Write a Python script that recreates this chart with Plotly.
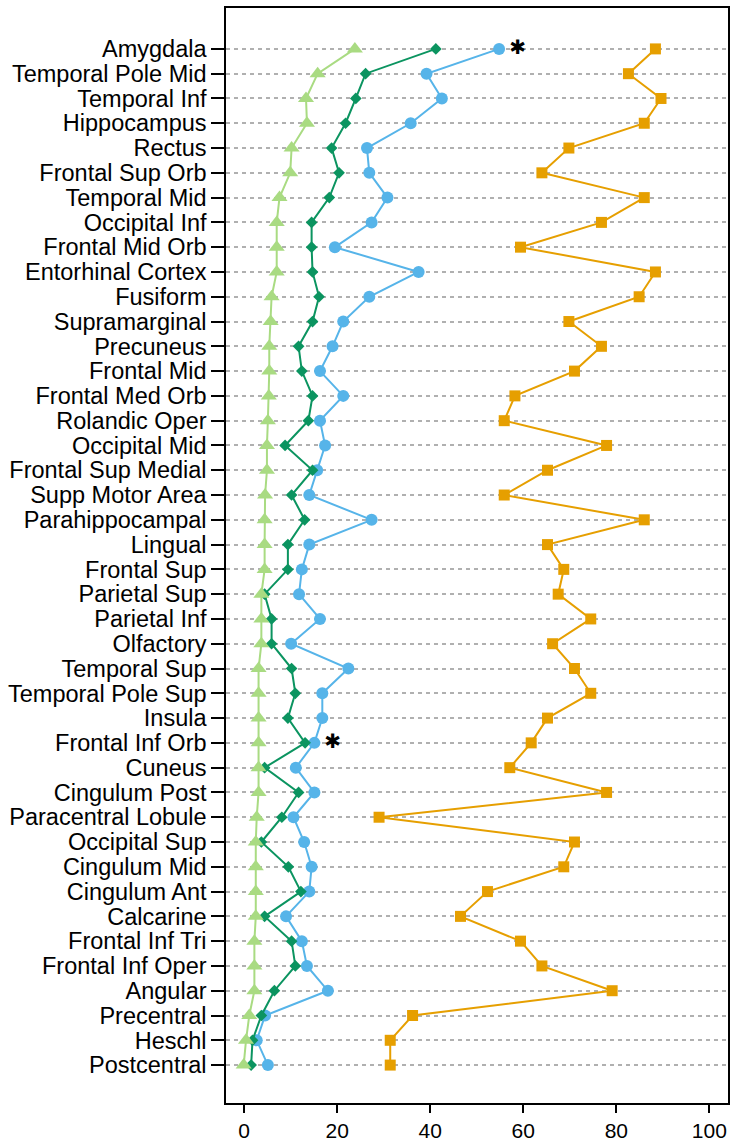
import plotly.graph_objects as go

regions = ["Amygdala", "Temporal Pole Mid", "Temporal Inf", "Hippocampus", "Rectus",
           "Frontal Sup Orb", "Temporal Mid", "Occipital Inf", "Frontal Mid Orb",
           "Entorhinal Cortex", "Fusiform", "Supramarginal", "Precuneus", "Frontal Mid",
           "Frontal Med Orb", "Rolandic Oper", "Occipital Mid", "Frontal Sup Medial",
           "Supp Motor Area", "Parahippocampal", "Lingual", "Frontal Sup", "Parietal Sup",
           "Parietal Inf", "Olfactory", "Temporal Sup", "Temporal Pole Sup", "Insula",
           "Frontal Inf Orb", "Cuneus", "Cingulum Post", "Paracentral Lobule",
           "Occipital Sup", "Cingulum Mid", "Cingulum Ant", "Calcarine", "Frontal Inf Tri",
           "Frontal Inf Oper", "Angular", "Precentral", "Heschl", "Postcentral"]

light_green = [23.8, 15.8, 13.3, 13.5, 10.2, 9.9, 7.6, 7.0, 7.0, 7.0, 5.9, 5.7, 5.4, 5.4,
               5.3, 5.1, 4.9, 4.9, 4.5, 4.4, 4.4, 4.4, 3.7, 3.7, 3.7, 3.1, 3.1, 3.1, 3.1,
               3.1, 3.1, 2.7, 2.5, 2.5, 2.5, 2.5, 2.2, 2.2, 2.2, 1.1, 0.4, -0.1]
dark_green = [41.2, 26.1, 24.0, 21.8, 18.8, 20.4, 18.3, 14.5, 14.5, 14.7, 16.1, 14.7, 11.7,
              12.4, 14.7, 13.8, 8.8, 14.7, 10.2, 13.0, 9.4, 9.4, 4.4, 5.9, 5.9, 10.2, 11.0,
              9.4, 13.1, 4.4, 11.7, 8.1, 3.7, 9.5, 12.2, 4.4, 10.2, 11.0, 6.5, 3.7, 1.8, 1.5]
blue = [54.8, 39.2, 42.5, 35.8, 26.4, 26.9, 30.8, 27.4, 19.5, 37.5, 26.9, 21.3, 19.0, 16.3,
        21.3, 16.3, 17.4, 15.7, 14.0, 27.4, 14.0, 12.4, 11.8, 16.3, 10.1, 22.4, 16.8, 16.8,
        15.1, 11.1, 15.1, 10.6, 12.9, 14.5, 14.0, 9.0, 12.4, 13.5, 18.0, 4.5, 2.7, 5.1]
orange = [88.4, 82.6, 89.6, 86.0, 69.8, 64.0, 86.0, 76.8, 59.4, 88.4, 84.9, 69.8, 76.8,
          71.0, 58.2, 55.9, 77.9, 65.2, 55.9, 86.0, 65.2, 68.7, 67.5, 74.5, 66.3, 71.0,
          74.5, 65.2, 61.7, 57.1, 77.9, 29.0, 71.0, 68.7, 52.3, 46.5, 59.4, 64.0, 79.1,
          36.2, 31.4, 31.4]

star_regions = ["Amygdala", "Frontal Inf Orb"]
star_x = [58.8, 19.0]

x_ticks = [0, 20, 40, 60, 80, 100]

fig = go.Figure()

series = [
    (orange, "#E69F00", "square", 11, 2),
    (blue, "#56B4E9", "circle", 12, 2),
    (dark_green, "#0B9460", "diamond", 9, 2),
    (light_green, "#A9DB82", "triangle-up", 14, 2),
]
for vals, col, sym, sz, lw in series:
    fig.add_trace(go.Scatter(
        x=vals, y=regions, mode="lines+markers",
        line=dict(color=col, width=lw),
        marker=dict(symbol=sym, size=sz, color=col),
        showlegend=False, cliponaxis=False))

fig.add_trace(go.Scatter(
    x=star_x, y=star_regions, mode="text", text=["✱"] * len(star_x),
    textfont=dict(size=20, color="black", family="DejaVu Sans"),
    textposition="middle center", showlegend=False))

n = len(regions)
fig.update_layout(
    width=731, height=1143,
    margin=dict(l=226, r=3, t=8, b=40),
    plot_bgcolor="white", paper_bgcolor="white",
    font=dict(family="Liberation Sans, Arial, sans-serif", color="black"),
)
fig.update_xaxes(
    range=[-3.9, 104.0], tickmode="array", tickvals=x_ticks,
    ticktext=[str(t) for t in x_ticks], automargin=False,
    showgrid=False, zeroline=False, showline=True, linecolor="black", linewidth=1.5,
    mirror=True, ticks="outside", ticklen=8, tickwidth=1.5, tickcolor="black",
    tickfont=dict(size=21))
fig.update_yaxes(
    type="category", categoryorder="array", categoryarray=regions,
    tickmode="array", tickvals=regions, ticktext=regions, automargin=False,
    range=[n - 1 + 1.53, -1.65],
    showgrid=True, gridcolor="#b0b0b0", gridwidth=1.5, griddash="4px,4px",
    zeroline=False, showline=True, linecolor="black", linewidth=1.5, mirror=True,
    ticks="outside", ticklen=13, tickwidth=1.5, tickcolor="black",
    tickfont=dict(size=23.5))

fig.write_html("out.html",
               config={"displayModeBar": False},
               post_script="document.body.style.margin='0';document.body.style.overflow='hidden';")
